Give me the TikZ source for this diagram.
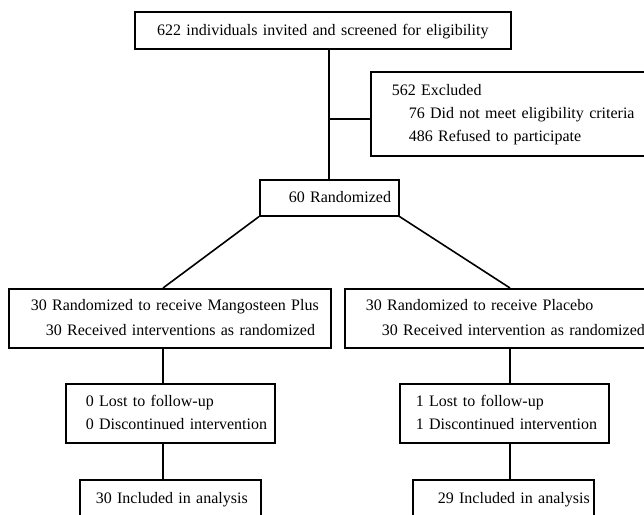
\documentclass[tikz,border=0pt]{standalone}
\usepackage{fontspec}
\setmainfont{Liberation Serif}
\usetikzlibrary{math}
\def\boxlines#1{\begin{tabular}{@{}l@{}}#1\end{tabular}}
\tikzset{
    box/.style={draw, line width=1.6pt, anchor=north west, inner ysep=0pt, align=left, font=\fontsize{16}{24}\selectfont},
    link/.style={line width=1.6pt},
}

\begin{document}
\begin{tikzpicture}[x=1pt, y=-1pt] % participant flow
	\tikzmath{\xa = 163; \xb = 510; \xs = 329;}
	\useasboundingbox (0,0) rectangle (644,514);
	\clip (0,0) rectangle (644,514);
	\node[box, align=center, inner xsep=10pt, text width=356pt, minimum height=37pt] (screen) at (134,11) {\boxlines{622 individuals invited and screened for eligibility}};
	\node[box, inner xsep=21pt, text width=258pt, minimum height=84pt, font=\fontsize{16}{23}\selectfont] (excl) at (370,71) {\boxlines{562 Excluded\\ \hspace*{17pt}76 Did not meet eligibility criteria\\ \hspace*{17pt}486 Refused to participate}};
	\node[box, inner xsep=29pt, text width=81pt, minimum height=36pt] (rand) at (259,179) {\boxlines{60 Randomized}};
	\node[box, inner xsep=22pt, text width=278pt, minimum height=59pt, font=\fontsize{16}{25}\selectfont] (armA) at (8,288) {\boxlines{30 Randomized to receive Mangosteen Plus\\ \hspace*{15pt}30 Received interventions as randomized}};
	\node[box, inner xsep=21pt, text width=288pt, minimum height=59pt, font=\fontsize{16}{25}\selectfont] (armB) at (344,288) {\boxlines{30 Randomized to receive Placebo\\ \hspace*{16pt}30 Received intervention as randomized}};
	\node[box, inner xsep=20pt, text width=169pt, minimum height=59pt, font=\fontsize{16}{23}\selectfont] (lossA) at (65,383) {\boxlines{0 Lost to follow-up\\ 0 Discontinued intervention}};
	\node[box, inner xsep=16pt, text width=177pt, minimum height=59pt, font=\fontsize{16}{23}\selectfont] (lossB) at (399,383) {\boxlines{1 Lost to follow-up\\ 1 Discontinued intervention}};
	\node[box, inner xsep=16pt, text width=149pt, minimum height=38pt] (incA) at (79,479) {\boxlines{30 Included in analysis}};
	\node[box, inner xsep=25pt, text width=131pt, minimum height=38pt] (incB) at (412,479) {\boxlines{29 Included in analysis}};
	\coordinate (split) at (\xs, 119);
	\coordinate (colA) at (\xa, 0);
	\coordinate (colB) at (\xb, 0);
	\draw[link] (screen.south -| split) -- (rand.north -| split);
	\draw[link] (split) -- (split -| excl.west);
	\draw[link] (rand.south west) -- (armA.north -| colA);
	\draw[link] (rand.south east) -- (armB.north -| colB);
	\foreach \s in {A,B} {
		\draw[link] (arm\s.south -| col\s) -- (loss\s.north -| col\s);
		\draw[link] (loss\s.south -| col\s) -- (inc\s.north -| col\s);
	}
\end{tikzpicture}
\end{document}
